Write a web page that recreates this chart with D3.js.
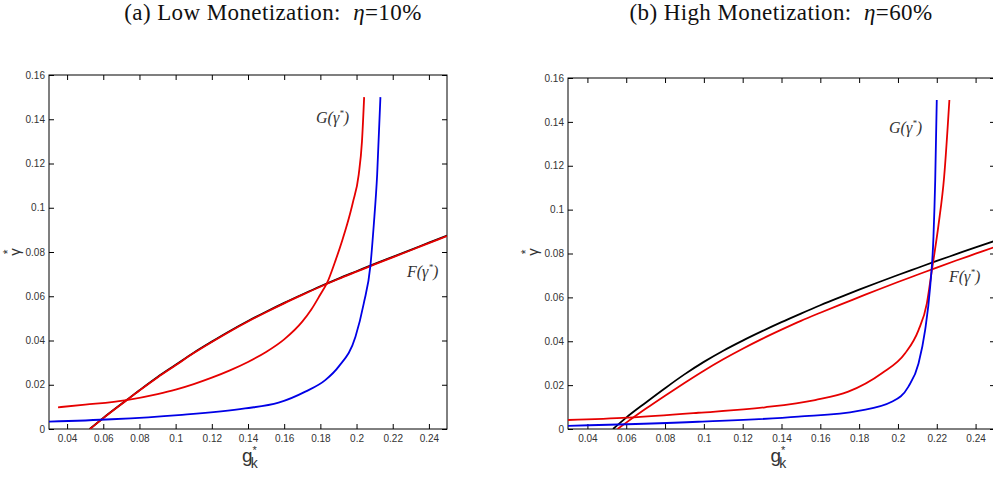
<!DOCTYPE html>
<html>
<head>
<meta charset="utf-8">
<script src="https://cdn.jsdelivr.net/npm/d3@7"></script>
<style>
    body { margin: 0; background: #fff; }
    .tickLabel { font-family: Arial, "Liberation Sans", sans-serif; font-size: 10px; fill: #333; }
    .title { font-family: "Times New Roman", "Liberation Serif", serif; font-size: 23px; letter-spacing: 0.4px; fill: #111; }
    .curveLabel { font-family: "Times New Roman", "Liberation Serif", serif; font-size: 16px; fill: #333; font-style: italic; }
    .axisLabel { font-family: Arial, "Liberation Sans", sans-serif; fill: #333; }
</style>
</head>
<body>
<script>
// Tick values shared by both panels
var xTicks = [0.04, 0.06, 0.08, 0.1, 0.12, 0.14, 0.16, 0.18, 0.2, 0.22, 0.24];
var yTicks = [0, 0.02, 0.04, 0.06, 0.08, 0.1, 0.12, 0.14, 0.16];
var xDomain = [0.03, 0.25];
var yDomain = [0, 0.16];

// Panel titles
var titles = ["(a) Low Monetization:", "(b) High Monetization:"];
var etaValues = ["10%", "60%"];

// Panel (a): [g_k*, gamma*]
var lowBlackF = [[0.0525,0],[0.06,0.0050],[0.0729,0.0131],[0.08,0.0175],[0.09,0.0235],[0.1,0.0290],[0.11,0.0345],[0.12,0.0395],[0.13,0.0443],[0.14,0.0488],[0.15,0.0530],[0.16,0.0570],[0.17,0.0608],[0.18,0.0645],[0.19,0.0680],[0.2,0.0713],[0.21,0.0746],[0.22,0.0778],[0.23,0.0810],[0.24,0.0842],[0.25,0.0874]];
var lowRedF = [[0.0527,0],[0.06,0.0049],[0.0729,0.0130],[0.08,0.0174],[0.09,0.0233],[0.1,0.0288],[0.11,0.0343],[0.12,0.0393],[0.13,0.0441],[0.14,0.0486],[0.15,0.0528],[0.16,0.0568],[0.17,0.0606],[0.18,0.0643],[0.19,0.0678],[0.2,0.0711],[0.21,0.0744],[0.22,0.0776],[0.23,0.0808],[0.24,0.0840],[0.25,0.0872]];
var lowRedG = [[0.035,0.0098],[0.05,0.0110],[0.0729,0.0131],[0.09,0.0158],[0.1,0.0178],[0.11,0.0203],[0.12,0.0232],[0.13,0.0265],[0.14,0.0303],[0.15,0.0348],[0.16,0.0405],[0.17,0.0485],[0.175,0.0540],[0.18,0.0608],[0.1837,0.0660],[0.1883,0.0760],[0.192,0.0850],[0.1948,0.0925],[0.198,0.1025],[0.2012,0.1150],[0.203,0.1300],[0.2042,0.150]];
var lowBlueG = [[0.03,0.0033],[0.0646,0.0044],[0.1015,0.0063],[0.1384,0.0093],[0.1569,0.0119],[0.1717,0.0169],[0.1827,0.0221],[0.1901,0.0282],[0.1994,0.0417],[0.204,0.0568],[0.2077,0.0741],[0.2095,0.0920],[0.2114,0.1150],[0.2132,0.150]];

// Panel (b)
var highBlackF = [[0.0532,0],[0.06,0.0052],[0.07,0.0120],[0.08,0.0186],[0.09,0.0249],[0.1,0.0306],[0.11,0.0357],[0.12,0.0403],[0.13,0.0446],[0.14,0.0487],[0.15,0.0526],[0.16,0.0564],[0.17,0.0600],[0.18,0.0635],[0.19,0.0669],[0.2,0.0702],[0.21,0.0734],[0.22,0.0766],[0.23,0.0797],[0.24,0.0828],[0.25,0.0858]];
var highRedF = [[0.0555,0],[0.06,0.0029],[0.07,0.0092],[0.08,0.0152],[0.09,0.0210],[0.1,0.0266],[0.11,0.0318],[0.12,0.0366],[0.13,0.0411],[0.14,0.0453],[0.15,0.0493],[0.16,0.0530],[0.17,0.0566],[0.18,0.0601],[0.19,0.0636],[0.2,0.0670],[0.21,0.0703],[0.22,0.0736],[0.23,0.0768],[0.24,0.0799],[0.25,0.0830]];
var highRedG = [[0.03,0.0041],[0.061,0.0052],[0.0971,0.0074],[0.1315,0.0099],[0.1573,0.0132],[0.1744,0.0170],[0.1917,0.0254],[0.2037,0.0345],[0.2106,0.0451],[0.2149,0.0573],[0.2175,0.0725],[0.2209,0.0930],[0.2238,0.1150],[0.2265,0.150]];
var highBlueG = [[0.03,0.0014],[0.0971,0.0033],[0.1487,0.0056],[0.1796,0.0083],[0.1968,0.0124],[0.2054,0.0193],[0.2106,0.0299],[0.214,0.0451],[0.2166,0.0649],[0.2183,0.0877],[0.2192,0.1135],[0.22,0.150]];

var panels = [
    { left: 49, right: 447, top: 75, bottom: 429, titleX: 273, yLabelX: 20,
      series: [[lowBlackF, "#000"], [lowRedF, "#e60000"], [lowRedG, "#e60000"], [lowBlueG, "#0000e6"]],
      gLabel: [316, 123], fLabel: [407, 277] },
    { left: 568, right: 995, top: 78, bottom: 429, titleX: 781, yLabelX: 538,
      series: [[highBlackF, "#000"], [highRedF, "#e60000"], [highRedG, "#e60000"], [highBlueG, "#0000e6"]],
      gLabel: [889, 133], fLabel: [949, 282] }
];

window.onload = function(){

    var w = 993, h = 477;

    var svg = d3.select("body")
        .append("svg")
        .attr("width", w)
        .attr("height", h)
        .attr("class", "container");

    panels.forEach(function(p, i){

        var x = d3.scaleLinear().domain(xDomain).range([p.left, p.right]);
        var y = d3.scaleLinear().domain(yDomain).range([p.bottom, p.top]);

        var g = svg.append("g").attr("class", "panel");

        // Title with italic eta
        var title = g.append("text")
            .attr("class", "title")
            .attr("x", p.titleX)
            .attr("y", 20)
            .attr("text-anchor", "middle");
        title.append("tspan").text(titles[i] + "\u00a0\u00a0");
        title.append("tspan").style("font-style", "italic").text("\u03b7");
        title.append("tspan").text("=" + etaValues[i]);

        // Clip for the curves
        g.append("clipPath")
            .attr("id", "clip" + i)
            .append("rect")
            .attr("x", p.left)
            .attr("y", p.top)
            .attr("width", p.right - p.left)
            .attr("height", p.bottom - p.top);

        // Axes: ticks point inward, mirrored on top and right
        g.append("g")
            .attr("transform", "translate(0," + p.bottom + ")")
            .call(d3.axisBottom(x).tickValues(xTicks).tickSizeInner(-5).tickSizeOuter(0).tickPadding(6).tickFormat(function(d){ return String(d); }));
        g.append("g")
            .attr("transform", "translate(0," + p.top + ")")
            .call(d3.axisTop(x).tickValues(xTicks).tickSizeInner(-5).tickSizeOuter(0).tickFormat(""));
        g.append("g")
            .attr("transform", "translate(" + p.left + ",0)")
            .call(d3.axisLeft(y).tickValues(yTicks).tickSizeInner(-5).tickSizeOuter(0).tickPadding(4).tickFormat(function(d){ return String(d); }));
        g.append("g")
            .attr("transform", "translate(" + p.right + ",0)")
            .call(d3.axisRight(y).tickValues(yTicks).tickSizeInner(-5).tickSizeOuter(0).tickFormat(""));

        g.selectAll(".tick text").attr("class", "tickLabel").attr("font-family", null).attr("font-size", null);
        g.selectAll(".domain").remove();
        g.selectAll(".tick line").attr("stroke", "#000");

        // Frame
        g.append("rect")
            .attr("x", p.left)
            .attr("y", p.top)
            .attr("width", p.right - p.left)
            .attr("height", p.bottom - p.top)
            .style("fill", "none")
            .style("stroke", "#000")
            .style("stroke-width", 1);

        // Curves
        var line = d3.line()
            .x(function(d){ return x(d[0]); })
            .y(function(d){ return y(d[1]); })
            .curve(d3.curveMonotoneX);

        g.append("g")
            .attr("clip-path", "url(#clip" + i + ")")
            .selectAll(".curve")
            .data(p.series)
            .enter()
            .append("path")
            .attr("class", "curve")
            .attr("d", function(d){ return line(d[0]); })
            .style("fill", "none")
            .style("stroke", function(d){ return d[1]; })
            .style("stroke-width", 1.8);

        // Curve labels G(gamma*) and F(gamma*)
        [["G", p.gLabel], ["F", p.fLabel]].forEach(function(lb){
            var t = g.append("text")
                .attr("class", "curveLabel")
                .attr("x", lb[1][0])
                .attr("y", lb[1][1]);
            t.append("tspan").text(lb[0] + "(\u03b3");
            t.append("tspan").attr("dy", -7).style("font-size", "9px").text("*");
            t.append("tspan").attr("dy", 7).text(")");
        });

        // y label: gamma* rotated, star sits above the glyph
        var yl = g.append("text")
            .attr("class", "axisLabel")
            .attr("transform", "translate(" + p.yLabelX + ",252) rotate(-90)")
            .attr("text-anchor", "middle")
            .style("font-size", "15px")
            .text("\u03b3");
        yl.append("tspan").attr("dx", -6).attr("dy", -8).style("font-size", "12px").text("*");

        // x label: g_k*
        var cx = (p.left + p.right) / 2 + (i === 0 ? 0 : -5);
        var xl = g.append("text")
            .attr("class", "axisLabel")
            .attr("x", cx - 6)
            .attr("y", 462)
            .style("font-size", "19px")
            .text("g");
        xl.append("tspan").attr("dy", -8).style("font-size", "11px").text("*");
        xl.append("tspan").attr("dx", -6).attr("dy", 14).style("font-size", "14px").text("k");
    });
};
</script>
</body>
</html>
